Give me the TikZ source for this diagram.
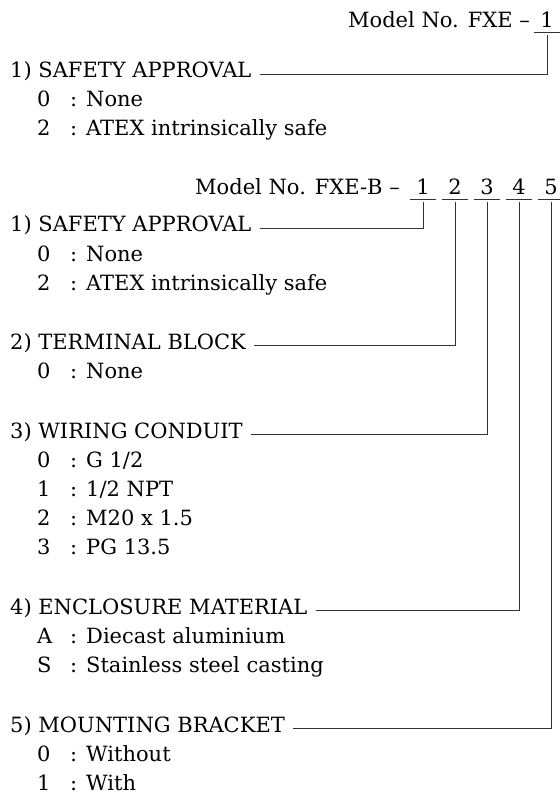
\documentclass[tikz,border=0pt]{standalone}
\usepackage{fontspec}
\setmainfont{DejaVu Serif}
\usetikzlibrary{positioning,calc}
\begin{document}
\begin{tikzpicture}[x=1pt,y=-1pt,
    every node/.style={inner sep=0pt, font=\fontsize{21}{25}\selectfont},
    txt/.style={anchor=base west, text height=0.72em, text depth=0pt},
    digit/.style={anchor=base, minimum width=25pt, text height=0.72em, text depth=4pt},
    link/.style={line width=1pt, black!80}]
    \useasboundingbox (0,0) rectangle (559,794);

    % Model FXE
    \node[txt, anchor=base east] (mfxe) at (530,28) {Model No. FXE --};
    \node[digit] (a1) at (547,28) {1};
    \draw[link] (a1.south west) -- (a1.south east);

    \node[txt] (asafe) at (10,78) {1)\ SAFETY APPROVAL};
    \node[txt] at (37,107) {0};
    \node[txt] at (70,107) {: None};
    \node[txt] at (37,136) {2};
    \node[txt] at (70,136) {: ATEX intrinsically safe};
    \draw[link] ([xshift=8pt]asafe.east) -| ([yshift=-3pt]a1.south);

    % Model FXE-B
    \node[txt, anchor=base east] (mfxeb) at (400,195) {Model No. FXE-B --};
    \node[digit] (b1) at (423,195) {1};
    \node[digit] (b2) at (455,195) {2};
    \node[digit] (b3) at (487,195) {3};
    \node[digit] (b4) at (519,195) {4};
    \node[digit] (b5) at (551,195) {5};
    \foreach \d in {b1,b2,b3,b4,b5}
        \draw[link] (\d.south west) -- (\d.south east);

    % 1) safety approval
    \node[txt] (bsafe) at (10,232) {1)\ SAFETY APPROVAL};
    \node[txt] at (37,261) {0};
    \node[txt] at (70,261) {: None};
    \node[txt] at (37,290) {2};
    \node[txt] at (70,290) {: ATEX intrinsically safe};

    % 2) terminal block
    \node[txt] (bterm) at (10,349) {2)\ TERMINAL BLOCK};
    \node[txt] at (37,378) {0};
    \node[txt] at (70,378) {: None};

    % 3) wiring conduit
    \node[txt] (bwire) at (10,438) {3)\ WIRING CONDUIT};
    \node[txt] at (37,467) {0};
    \node[txt] at (70,467) {: G 1/2};
    \node[txt] at (37,496) {1};
    \node[txt] at (70,496) {: 1/2 NPT};
    \node[txt] at (37,525) {2};
    \node[txt] at (70,525) {: M20 x 1.5};
    \node[txt] at (37,554) {3};
    \node[txt] at (70,554) {: PG 13.5};

    % 4) enclosure material
    \node[txt] (bencl) at (10,614) {4)\ ENCLOSURE MATERIAL};
    \node[txt] at (37,643) {A};
    \node[txt] at (70,643) {: Diecast aluminium};
    \node[txt] at (37,672) {S};
    \node[txt] at (70,672) {: Stainless steel casting};

    % 5) mounting bracket
    \node[txt] (bmount) at (10,732) {5)\ MOUNTING BRACKET};
    \node[txt] at (37,761) {0};
    \node[txt] at (70,761) {: Without};
    \node[txt] at (37,790) {1};
    \node[txt] at (70,790) {: With};

    % Connectors
    \draw[link] ([xshift=8pt]bsafe.east) -| ([yshift=-3pt]b1.south);
    \draw[link] ([xshift=8pt]bterm.east) -| ([yshift=-3pt]b2.south);
    \draw[link] ([xshift=8pt]bwire.east) -| ([yshift=-3pt]b3.south);
    \draw[link] ([xshift=8pt]bencl.east) -| ([yshift=-3pt]b4.south);
    \draw[link] ([xshift=8pt]bmount.east) -| ([yshift=-3pt]b5.south);
\end{tikzpicture}
\end{document}
